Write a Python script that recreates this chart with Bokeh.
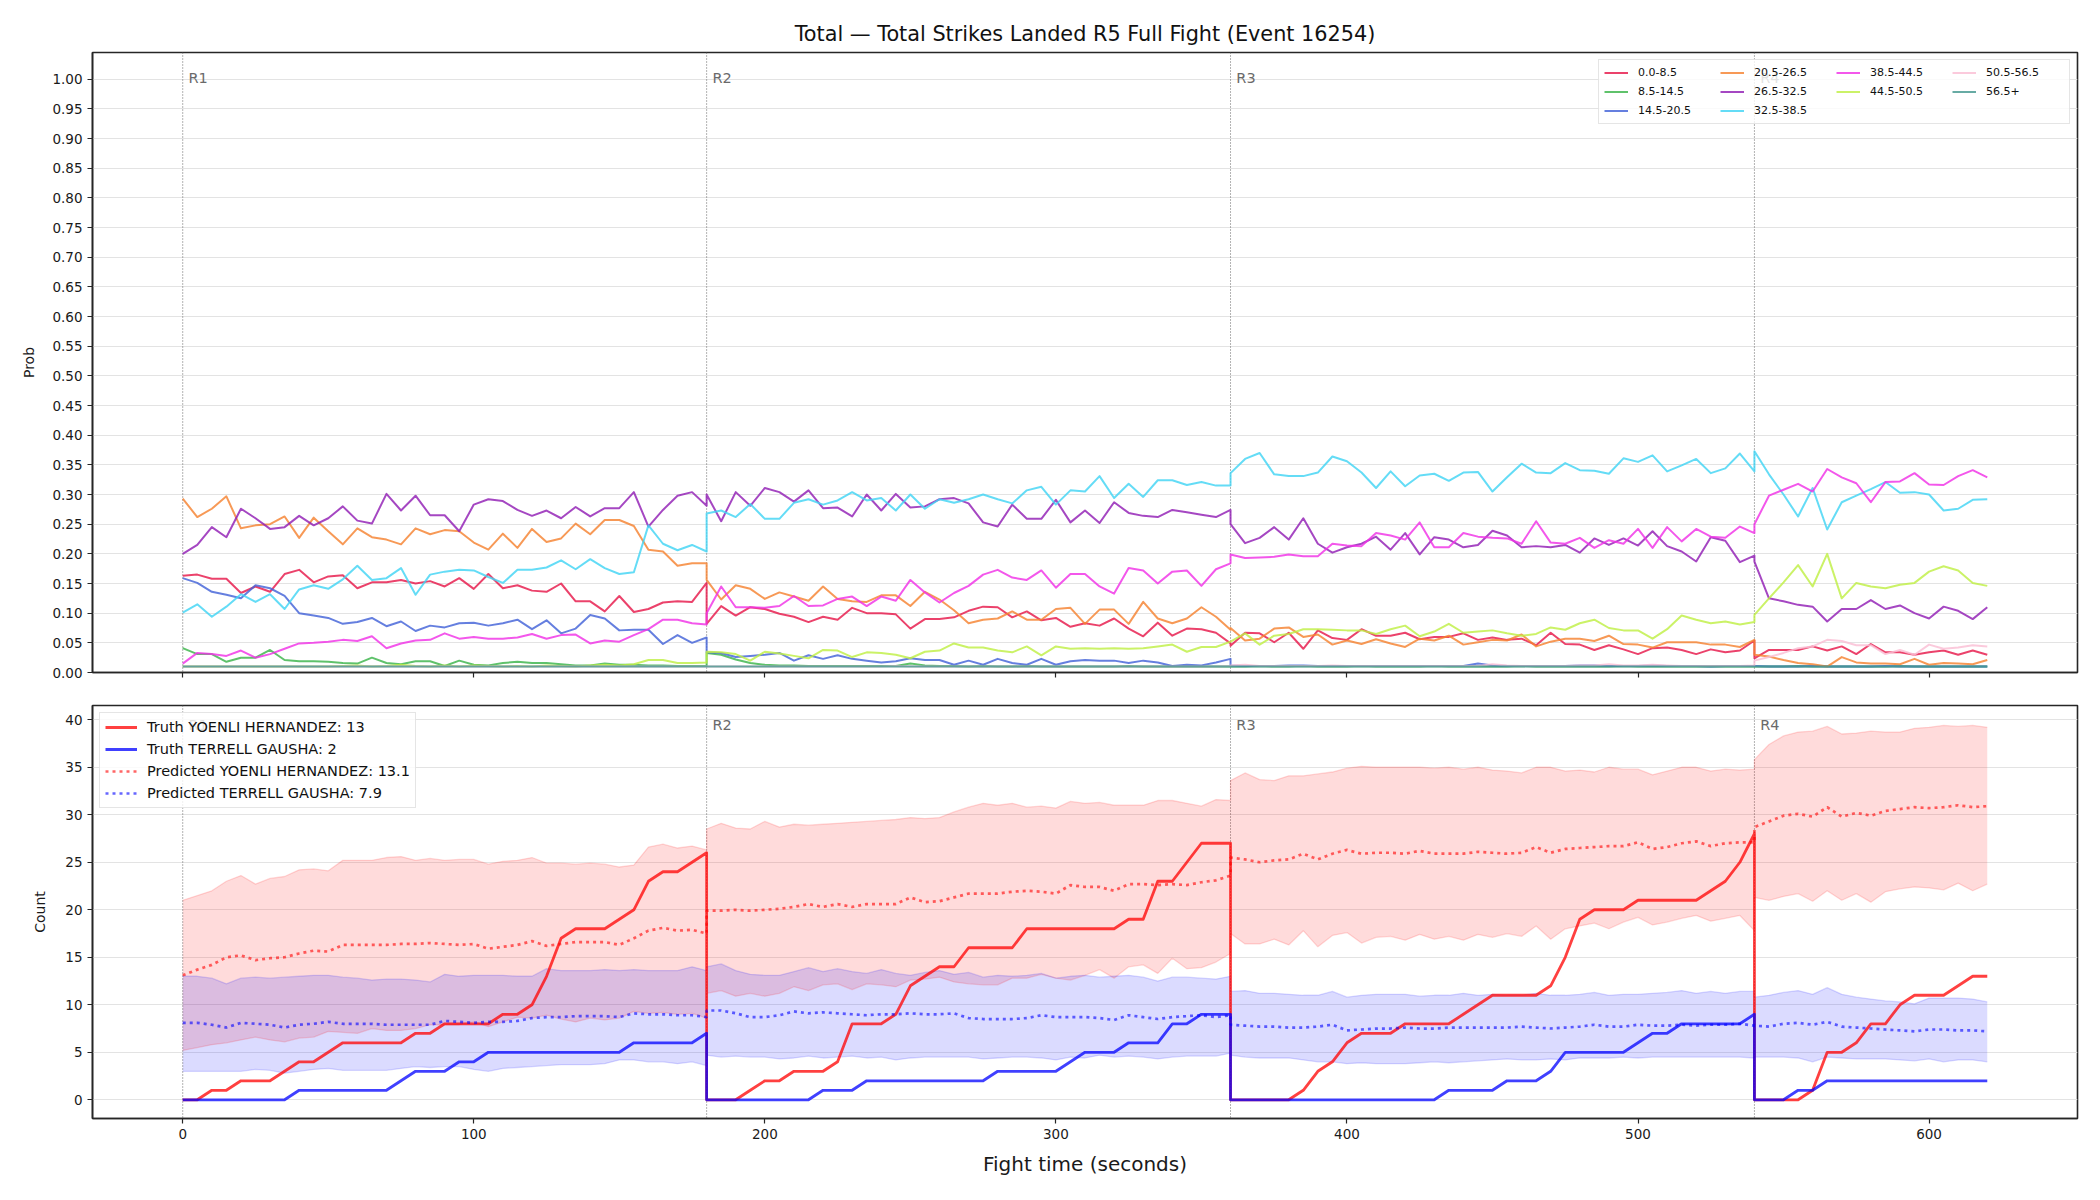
from bokeh.plotting import figure
from bokeh.layouts import column
from bokeh.models import (Range1d, FixedTicker, NumeralTickFormatter, Span, Label,
                          Legend, LegendItem, CustomLabelingPolicy)
from bokeh.embed import file_html
from bokeh.resources import INLINE

FONT = "DejaVu Sans"

# ---------------------------------------------------------------------------
# Time grid: every round sampled each 5 s; rounds are joined end-to-start.
# ---------------------------------------------------------------------------
round_starts = [0, 180, 360, 540]
round_names = ["R1", "R2", "R3", "R4"]
t_r1 = list(range(0, 181, 5))
t_r2 = list(range(180, 361, 5))
t_r3 = list(range(360, 541, 5))
t_r4 = list(range(540, 621, 5))
t_all = t_r1 + t_r2 + t_r3 + t_r4

# ---------------------------------------------------------------------------
# Probability of each total-strikes bin
# ---------------------------------------------------------------------------
bin_labels = ["0.0-8.5", "8.5-14.5", "14.5-20.5", "20.5-26.5", "26.5-32.5",
              "32.5-38.5", "38.5-44.5", "44.5-50.5", "50.5-56.5", "56.5+"]
bin_colors = ["#e6194b", "#3cb44b", "#4363d8", "#f58231", "#911eb4",
              "#42d4f4", "#f032e6", "#bfef45", "#fabed4", "#469990"]

prob_0_85 = (
    [0.163, 0.165, 0.158, 0.158, 0.134, 0.145, 0.136, 0.166, 0.173, 0.152, 0.162, 0.164, 0.142,
     0.152, 0.152, 0.156, 0.150, 0.154, 0.145, 0.159, 0.141, 0.166, 0.142, 0.147, 0.138, 0.136,
     0.150, 0.120, 0.120, 0.103, 0.129, 0.102, 0.107, 0.118, 0.120, 0.119, 0.151]
    + [0.082, 0.112, 0.096, 0.110, 0.107, 0.099, 0.094, 0.085, 0.094, 0.089, 0.109, 0.100, 0.100,
       0.098, 0.074, 0.090, 0.090, 0.093, 0.104, 0.111, 0.110, 0.093, 0.103, 0.088, 0.092, 0.077,
       0.083, 0.079, 0.091, 0.074, 0.061, 0.084, 0.062, 0.074, 0.073, 0.067, 0.049]
    + [0.045, 0.067, 0.066, 0.051, 0.067, 0.040, 0.071, 0.058, 0.055, 0.073, 0.062, 0.062, 0.067,
       0.056, 0.060, 0.060, 0.066, 0.055, 0.059, 0.055, 0.057, 0.046, 0.067, 0.048, 0.047, 0.038,
       0.046, 0.039, 0.031, 0.041, 0.042, 0.038, 0.031, 0.039, 0.034, 0.037, 0.054]
    + [0.024, 0.038, 0.038, 0.038, 0.044, 0.037, 0.044, 0.031, 0.048, 0.034, 0.034, 0.030, 0.034,
       0.037, 0.030, 0.037, 0.030]
)
prob_85_145 = (
    [0.041, 0.031, 0.031, 0.018, 0.025, 0.025, 0.038, 0.021, 0.019, 0.019, 0.018, 0.016, 0.015,
     0.025, 0.016, 0.014, 0.019, 0.019, 0.011, 0.020, 0.013, 0.012, 0.016, 0.018, 0.016, 0.016,
     0.014, 0.012, 0.012, 0.015, 0.013, 0.013, 0.012, 0.012, 0.011, 0.011, 0.011]
    + [0.033, 0.030, 0.022, 0.016, 0.013, 0.012, 0.012, 0.011, 0.011, 0.011, 0.011, 0.011, 0.011,
       0.011, 0.015, 0.012, 0.011, 0.011, 0.010, 0.011, 0.010, 0.010, 0.011, 0.010, 0.010, 0.010,
       0.010, 0.010, 0.010, 0.011, 0.010, 0.010, 0.010, 0.010, 0.010, 0.010, 0.010]
    + [0.010, 0.010, 0.011, 0.010, 0.010, 0.011, 0.010, 0.010, 0.010, 0.011, 0.010, 0.010, 0.010,
       0.010, 0.011, 0.010, 0.010, 0.010, 0.010, 0.010, 0.011, 0.010, 0.010, 0.010, 0.010, 0.010,
       0.010, 0.011, 0.010, 0.010, 0.010, 0.010, 0.010, 0.010, 0.010, 0.010, 0.010]
    + [0.010, 0.010, 0.010, 0.011, 0.010, 0.010, 0.010, 0.010, 0.010, 0.010, 0.011, 0.010, 0.010,
       0.010, 0.010, 0.010, 0.010]
)
prob_145_205 = (
    [0.159, 0.151, 0.136, 0.131, 0.125, 0.147, 0.142, 0.129, 0.100, 0.096, 0.092, 0.082, 0.085,
     0.092, 0.078, 0.086, 0.070, 0.079, 0.076, 0.083, 0.084, 0.079, 0.083, 0.089, 0.073, 0.088,
     0.066, 0.074, 0.097, 0.091, 0.071, 0.072, 0.072, 0.048, 0.063, 0.050, 0.059]
    + [0.034, 0.033, 0.026, 0.028, 0.030, 0.033, 0.020, 0.029, 0.023, 0.029, 0.023, 0.020, 0.017,
       0.019, 0.024, 0.021, 0.021, 0.013, 0.020, 0.013, 0.023, 0.016, 0.013, 0.023, 0.013, 0.019,
       0.021, 0.020, 0.020, 0.016, 0.020, 0.017, 0.011, 0.013, 0.012, 0.017, 0.023]
    + [0.012, 0.011, 0.011, 0.011, 0.012, 0.012, 0.011, 0.011, 0.011, 0.011, 0.011, 0.011, 0.011,
       0.011, 0.011, 0.011, 0.011, 0.015, 0.012, 0.011, 0.011, 0.011, 0.011, 0.011, 0.012, 0.012,
       0.011, 0.011, 0.011, 0.012, 0.011, 0.011, 0.011, 0.010, 0.011, 0.011, 0.011]
    + [0.011, 0.010, 0.010, 0.010, 0.011, 0.010, 0.010, 0.010, 0.010, 0.011, 0.010, 0.010, 0.010,
       0.010, 0.010, 0.010, 0.010]
)
prob_205_265 = (
    [0.293, 0.262, 0.276, 0.297, 0.243, 0.248, 0.250, 0.263, 0.227, 0.261, 0.238, 0.216, 0.243,
     0.228, 0.224, 0.216, 0.243, 0.233, 0.240, 0.238, 0.219, 0.207, 0.234, 0.210, 0.242, 0.220,
     0.226, 0.251, 0.233, 0.257, 0.257, 0.247, 0.207, 0.204, 0.180, 0.184, 0.184]
    + [0.156, 0.123, 0.147, 0.141, 0.124, 0.135, 0.128, 0.121, 0.145, 0.124, 0.120, 0.119, 0.130,
       0.130, 0.112, 0.136, 0.123, 0.105, 0.083, 0.089, 0.091, 0.103, 0.089, 0.089, 0.107, 0.109,
       0.082, 0.106, 0.106, 0.082, 0.119, 0.091, 0.083, 0.091, 0.110, 0.094, 0.072]
    + [0.075, 0.054, 0.057, 0.074, 0.076, 0.060, 0.064, 0.047, 0.054, 0.048, 0.056, 0.049, 0.043,
       0.057, 0.054, 0.062, 0.047, 0.051, 0.055, 0.054, 0.064, 0.044, 0.052, 0.057, 0.057, 0.053,
       0.062, 0.048, 0.047, 0.042, 0.051, 0.051, 0.051, 0.047, 0.047, 0.043, 0.055]
    + [0.030, 0.027, 0.021, 0.016, 0.014, 0.010, 0.026, 0.017, 0.015, 0.015, 0.014, 0.023, 0.013,
       0.016, 0.015, 0.014, 0.021]
)
prob_265_325 = (
    [0.200, 0.215, 0.245, 0.228, 0.276, 0.260, 0.242, 0.245, 0.264, 0.248, 0.260, 0.280, 0.256,
     0.251, 0.301, 0.273, 0.298, 0.265, 0.265, 0.238, 0.283, 0.292, 0.289, 0.274, 0.264, 0.273,
     0.260, 0.279, 0.263, 0.277, 0.277, 0.304, 0.246, 0.274, 0.298, 0.304, 0.281]
    + [0.300, 0.255, 0.304, 0.281, 0.311, 0.304, 0.288, 0.307, 0.277, 0.278, 0.263, 0.300, 0.273,
       0.301, 0.278, 0.280, 0.292, 0.294, 0.285, 0.253, 0.246, 0.283, 0.259, 0.259, 0.291, 0.253,
       0.273, 0.252, 0.287, 0.269, 0.264, 0.262, 0.274, 0.270, 0.266, 0.262, 0.274]
    + [0.250, 0.218, 0.227, 0.245, 0.224, 0.260, 0.217, 0.202, 0.211, 0.217, 0.229, 0.207, 0.235,
       0.199, 0.228, 0.224, 0.211, 0.215, 0.239, 0.231, 0.211, 0.213, 0.211, 0.215, 0.202, 0.226,
       0.215, 0.226, 0.214, 0.238, 0.213, 0.204, 0.187, 0.228, 0.222, 0.186, 0.197]
    + [0.187, 0.125, 0.120, 0.114, 0.111, 0.086, 0.107, 0.107, 0.122, 0.107, 0.113, 0.100, 0.091,
       0.111, 0.104, 0.090, 0.110]
)
prob_325_385 = (
    [0.101, 0.115, 0.094, 0.111, 0.132, 0.119, 0.132, 0.107, 0.140, 0.147, 0.141, 0.157, 0.180,
     0.156, 0.159, 0.176, 0.131, 0.165, 0.170, 0.173, 0.172, 0.161, 0.151, 0.173, 0.173, 0.177,
     0.189, 0.174, 0.191, 0.176, 0.166, 0.169, 0.248, 0.217, 0.206, 0.215, 0.204]
    + [0.268, 0.273, 0.262, 0.284, 0.259, 0.259, 0.286, 0.292, 0.283, 0.290, 0.304, 0.290, 0.294,
       0.273, 0.300, 0.276, 0.292, 0.286, 0.292, 0.300, 0.292, 0.285, 0.307, 0.313, 0.283, 0.307,
       0.305, 0.331, 0.294, 0.318, 0.296, 0.324, 0.324, 0.316, 0.321, 0.315, 0.315]
    + [0.336, 0.360, 0.370, 0.334, 0.331, 0.331, 0.337, 0.364, 0.356, 0.337, 0.311, 0.339, 0.314,
       0.332, 0.335, 0.323, 0.337, 0.338, 0.305, 0.329, 0.352, 0.337, 0.336, 0.353, 0.341, 0.340,
       0.335, 0.361, 0.355, 0.366, 0.339, 0.349, 0.360, 0.336, 0.344, 0.369, 0.339]
    + [0.373, 0.334, 0.300, 0.263, 0.311, 0.241, 0.287, 0.298, 0.309, 0.321, 0.303, 0.304, 0.300,
       0.273, 0.276, 0.291, 0.292]
)
prob_385_445 = (
    [0.015, 0.033, 0.031, 0.028, 0.037, 0.025, 0.031, 0.040, 0.049, 0.050, 0.052, 0.055, 0.053,
     0.061, 0.041, 0.049, 0.054, 0.055, 0.066, 0.057, 0.060, 0.057, 0.057, 0.059, 0.065, 0.057,
     0.063, 0.064, 0.049, 0.054, 0.052, 0.063, 0.073, 0.089, 0.089, 0.083, 0.081]
    + [0.100, 0.145, 0.110, 0.110, 0.109, 0.112, 0.129, 0.112, 0.113, 0.124, 0.128, 0.112, 0.128,
       0.121, 0.156, 0.135, 0.118, 0.134, 0.146, 0.165, 0.173, 0.160, 0.156, 0.172, 0.143, 0.166,
       0.166, 0.145, 0.133, 0.176, 0.172, 0.150, 0.170, 0.172, 0.146, 0.174, 0.184]
    + [0.199, 0.193, 0.194, 0.195, 0.199, 0.196, 0.196, 0.217, 0.214, 0.213, 0.235, 0.231, 0.224,
       0.253, 0.211, 0.211, 0.235, 0.229, 0.227, 0.226, 0.217, 0.255, 0.219, 0.217, 0.227, 0.210,
       0.223, 0.217, 0.242, 0.210, 0.245, 0.221, 0.242, 0.229, 0.227, 0.246, 0.235]
    + [0.250, 0.298, 0.308, 0.318, 0.305, 0.343, 0.329, 0.319, 0.287, 0.321, 0.322, 0.336, 0.317,
       0.316, 0.331, 0.341, 0.329]
)
prob_445_505 = (
    [0.010, 0.010, 0.010, 0.010, 0.010, 0.010, 0.010, 0.010, 0.010, 0.010, 0.010, 0.011, 0.012,
     0.010, 0.011, 0.013, 0.011, 0.010, 0.012, 0.010, 0.012, 0.011, 0.010, 0.011, 0.010, 0.012,
     0.011, 0.010, 0.012, 0.013, 0.012, 0.014, 0.021, 0.021, 0.016, 0.016, 0.017]
    + [0.035, 0.034, 0.031, 0.020, 0.035, 0.032, 0.028, 0.024, 0.038, 0.037, 0.026, 0.034, 0.033,
       0.030, 0.024, 0.035, 0.037, 0.049, 0.042, 0.042, 0.037, 0.034, 0.044, 0.029, 0.044, 0.040,
       0.041, 0.040, 0.041, 0.040, 0.041, 0.044, 0.047, 0.035, 0.043, 0.043, 0.052]
    + [0.052, 0.066, 0.047, 0.062, 0.065, 0.073, 0.073, 0.072, 0.071, 0.071, 0.065, 0.073, 0.079,
       0.061, 0.069, 0.082, 0.067, 0.069, 0.071, 0.066, 0.062, 0.065, 0.076, 0.072, 0.083, 0.089,
       0.075, 0.071, 0.071, 0.057, 0.073, 0.096, 0.089, 0.083, 0.086, 0.081, 0.085]
    + [0.097, 0.125, 0.152, 0.181, 0.145, 0.200, 0.125, 0.151, 0.145, 0.142, 0.148, 0.151, 0.170,
       0.179, 0.172, 0.151, 0.146]
)
prob_505_565 = (
    [0.010, 0.010, 0.010, 0.010, 0.010, 0.010, 0.010, 0.010, 0.010, 0.010, 0.010, 0.010, 0.010,
     0.010, 0.010, 0.010, 0.010, 0.010, 0.010, 0.010, 0.010, 0.010, 0.010, 0.010, 0.010, 0.010,
     0.010, 0.010, 0.010, 0.010, 0.010, 0.010, 0.010, 0.010, 0.010, 0.010, 0.010]
    + [0.010, 0.010, 0.010, 0.010, 0.010, 0.010, 0.010, 0.010, 0.010, 0.010, 0.010, 0.010, 0.010,
       0.011, 0.010, 0.010, 0.010, 0.010, 0.010, 0.010, 0.010, 0.010, 0.010, 0.010, 0.010, 0.010,
       0.010, 0.010, 0.010, 0.010, 0.010, 0.010, 0.010, 0.010, 0.010, 0.010, 0.011]
    + [0.012, 0.013, 0.011, 0.011, 0.011, 0.011, 0.011, 0.012, 0.011, 0.011, 0.011, 0.011, 0.011,
       0.011, 0.011, 0.011, 0.011, 0.011, 0.014, 0.012, 0.011, 0.011, 0.011, 0.011, 0.012, 0.012,
       0.014, 0.012, 0.012, 0.013, 0.012, 0.011, 0.011, 0.011, 0.011, 0.011, 0.012]
    + [0.020, 0.026, 0.033, 0.041, 0.044, 0.055, 0.053, 0.046, 0.046, 0.031, 0.038, 0.030, 0.047,
       0.040, 0.042, 0.046, 0.044]
)
prob_565_up = (
    [0.010, 0.010, 0.010, 0.010, 0.010, 0.010, 0.010, 0.010, 0.010, 0.010, 0.010, 0.010, 0.010,
     0.010, 0.010, 0.010, 0.010, 0.010, 0.010, 0.010, 0.010, 0.010, 0.010, 0.010, 0.010, 0.010,
     0.010, 0.010, 0.010, 0.010, 0.010, 0.010, 0.010, 0.010, 0.010, 0.010, 0.010]
    + [0.010, 0.010, 0.010, 0.010, 0.010, 0.010, 0.010, 0.010, 0.010, 0.010, 0.010, 0.010, 0.010,
       0.010, 0.010, 0.010, 0.010, 0.010, 0.010, 0.010, 0.010, 0.010, 0.010, 0.010, 0.010, 0.010,
       0.010, 0.010, 0.010, 0.010, 0.010, 0.010, 0.010, 0.010, 0.010, 0.010, 0.010]
    + [0.010, 0.010, 0.010, 0.010, 0.010, 0.010, 0.010, 0.010, 0.010, 0.010, 0.010, 0.010, 0.010,
       0.010, 0.010, 0.010, 0.010, 0.010, 0.010, 0.010, 0.010, 0.010, 0.010, 0.010, 0.010, 0.010,
       0.010, 0.010, 0.010, 0.010, 0.010, 0.010, 0.010, 0.010, 0.010, 0.010, 0.010]
    + [0.010, 0.010, 0.010, 0.010, 0.010, 0.010, 0.010, 0.010, 0.010, 0.010, 0.010, 0.010, 0.010,
       0.010, 0.010, 0.010, 0.010]
)
bin_probs = [prob_0_85, prob_85_145, prob_145_205, prob_205_265, prob_265_325,
             prob_325_385, prob_385_445, prob_445_505, prob_505_565, prob_565_up]

# ---------------------------------------------------------------------------
# Cumulative strikes per round: truth and model prediction with interval
# ---------------------------------------------------------------------------
fighter_a = "YOENLI HERNANDEZ"
fighter_b = "TERRELL GAUSHA"
pred_total_a = 13.1
pred_total_b = 7.9

truth_a = (
    [0, 0, 1, 1, 2, 2, 2, 3, 4, 4, 5, 6, 6, 6, 6, 6, 7, 7, 8, 8, 8, 8, 9, 9, 10, 13, 17, 18, 18,
     18, 19, 20, 23, 24, 24, 25, 26]
    + [0, 0, 0, 1, 2, 2, 3, 3, 3, 4, 8, 8, 8, 9, 12, 13, 14, 14, 16, 16, 16, 16, 18, 18, 18, 18,
       18, 18, 18, 19, 19, 23, 23, 25, 27, 27, 27]
    + [0, 0, 0, 0, 0, 1, 3, 4, 6, 7, 7, 7, 8, 8, 8, 8, 9, 10, 11, 11, 11, 11, 12, 15, 19, 20, 20,
       20, 21, 21, 21, 21, 21, 22, 23, 25, 28]
    + [0, 0, 0, 0, 1, 5, 5, 6, 8, 8, 10, 11, 11, 11, 12, 13, 13]
)
truth_b = (
    [0, 0, 0, 0, 0, 0, 0, 0, 1, 1, 1, 1, 1, 1, 1, 2, 3, 3, 3, 4, 4, 5, 5, 5, 5, 5, 5, 5, 5, 5, 5,
     6, 6, 6, 6, 6, 7]
    + [0, 0, 0, 0, 0, 0, 0, 0, 1, 1, 1, 2, 2, 2, 2, 2, 2, 2, 2, 2, 3, 3, 3, 3, 3, 4, 5, 5, 5, 6,
       6, 6, 8, 8, 9, 9, 9]
    + [0, 0, 0, 0, 0, 0, 0, 0, 0, 0, 0, 0, 0, 0, 0, 1, 1, 1, 1, 2, 2, 2, 3, 5, 5, 5, 5, 5, 6, 7,
       7, 8, 8, 8, 8, 8, 9]
    + [0, 0, 0, 1, 1, 2, 2, 2, 2, 2, 2, 2, 2, 2, 2, 2, 2]
)
pred_a = (
    [13.1, 13.7, 14.2, 15.0, 15.2, 14.7, 14.9, 15.0, 15.4, 15.7, 15.6, 16.3, 16.3, 16.3, 16.3,
     16.4, 16.4, 16.5, 16.4, 16.3, 16.4, 15.9, 16.1, 16.3, 16.7, 16.2, 16.4, 16.6, 16.6, 16.6,
     16.3, 17.0, 17.8, 18.1, 17.8, 17.9, 17.5]
    + [19.9, 19.9, 20.0, 19.9, 20.0, 20.1, 20.3, 20.6, 20.3, 20.6, 20.3, 20.6, 20.6, 20.6, 21.3,
       20.8, 20.9, 21.3, 21.7, 21.7, 21.7, 21.9, 22.0, 21.9, 21.7, 22.6, 22.4, 22.4, 22.0, 22.7,
       22.7, 22.6, 22.7, 22.6, 22.9, 23.1, 23.6]
    + [25.5, 25.3, 25.0, 25.2, 25.3, 25.9, 25.3, 25.9, 26.3, 25.9, 26.0, 26.0, 25.9, 26.2, 25.9,
       25.9, 25.9, 26.1, 26.0, 25.9, 26.0, 26.6, 26.0, 26.4, 26.5, 26.6, 26.7, 26.7, 27.1, 26.4,
       26.6, 27.0, 27.2, 26.7, 27.0, 27.1, 27.1]
    + [28.7, 29.3, 29.9, 30.1, 29.8, 30.8, 29.8, 30.2, 29.9, 30.4, 30.6, 30.8, 30.7, 30.8, 31.0,
       30.8, 30.9]
)
pred_a_hi = (
    [21.0, 21.5, 22.0, 23.0, 23.6, 22.7, 23.3, 23.5, 24.2, 24.3, 24.1, 25.2, 25.2, 25.2, 25.5,
     25.6, 25.2, 25.4, 25.2, 25.3, 25.3, 24.8, 25.1, 25.2, 25.5, 24.9, 24.9, 24.8, 24.9, 24.8,
     24.5, 24.7, 26.6, 26.9, 26.5, 26.7, 26.3]
    + [28.5, 29.1, 28.6, 28.5, 29.3, 28.7, 29.0, 28.9, 29.0, 29.1, 29.2, 29.3, 29.4, 29.5, 29.7,
       29.6, 29.7, 30.3, 30.8, 31.2, 31.0, 31.2, 30.8, 30.9, 30.7, 31.4, 31.2, 31.3, 31.0, 31.0,
       31.0, 31.5, 31.5, 31.2, 30.9, 31.6, 31.5]
    + [33.6, 34.4, 33.7, 33.6, 34.1, 34.1, 34.3, 34.5, 34.9, 35.1, 35.0, 35.0, 35.0, 35.0, 34.9,
       35.0, 34.8, 35.0, 34.7, 34.6, 34.4, 35.0, 35.0, 34.6, 34.7, 34.5, 35.0, 34.8, 34.8, 34.2,
       34.6, 35.0, 35.0, 34.6, 34.8, 34.7, 34.8]
    + [35.8, 37.4, 38.3, 38.7, 38.8, 39.3, 38.5, 38.6, 38.8, 38.7, 38.7, 39.1, 39.2, 39.4, 39.3,
       39.4, 39.2]
)
pred_a_lo = (
    [5.2, 5.5, 5.8, 6.0, 6.3, 6.6, 6.3, 6.1, 6.5, 6.6, 7.2, 7.1, 7.0, 7.5, 7.3, 7.3, 7.5, 7.9,
     7.9, 7.9, 8.2, 7.7, 8.2, 8.7, 8.6, 8.9, 8.5, 8.2, 8.6, 8.4, 8.6, 9.3, 9.1, 9.2, 9.0, 9.1, 8.6]
    + [11.2, 11.5, 10.9, 11.2, 10.9, 11.2, 11.9, 11.5, 12.1, 12.2, 11.6, 12.2, 12.1, 11.9, 12.6,
       12.7, 12.9, 12.4, 12.2, 12.1, 12.1, 12.8, 12.8, 13.2, 12.8, 12.6, 13.1, 13.7, 12.8, 14.0,
       14.2, 13.3, 14.9, 13.8, 13.9, 14.5, 15.4]
    + [17.5, 16.4, 16.4, 16.9, 16.3, 17.8, 16.1, 17.3, 17.6, 16.5, 17.1, 17.2, 16.8, 17.4, 16.9,
       17.2, 16.8, 17.4, 17.1, 17.5, 17.2, 18.3, 16.9, 18.0, 18.3, 18.6, 18.0, 18.7, 19.2, 18.4,
       18.7, 19.1, 19.4, 18.8, 19.1, 19.4, 17.8]
    + [21.3, 21.0, 21.4, 21.7, 20.9, 22.0, 21.0, 21.7, 20.8, 21.9, 22.2, 22.4, 22.3, 22.1, 22.8,
       22.0, 22.7]
)
pred_b = (
    [8.1, 8.1, 7.9, 7.6, 8.1, 8.0, 7.9, 7.6, 7.9, 8.0, 8.2, 8.0, 8.0, 8.0, 7.9, 7.9, 7.9, 7.9,
     8.3, 8.2, 8.1, 8.2, 8.2, 8.3, 8.6, 8.7, 8.7, 8.8, 8.8, 8.8, 8.7, 9.1, 9.0, 9.0, 8.9, 8.9, 8.7]
    + [9.4, 9.4, 9.1, 8.7, 8.7, 8.9, 9.3, 9.1, 9.2, 9.1, 9.0, 8.9, 9.0, 9.0, 9.1, 9.0, 9.0, 9.1,
       8.6, 8.5, 8.5, 8.5, 8.6, 8.9, 8.7, 8.7, 8.7, 8.6, 8.4, 8.9, 8.7, 8.5, 8.7, 8.8, 8.9, 8.7, 8.9]
    + [7.9, 7.8, 7.7, 7.7, 7.6, 7.6, 7.7, 7.9, 7.3, 7.4, 7.5, 7.5, 7.6, 7.5, 7.5, 7.6, 7.6, 7.6,
       7.6, 7.6, 7.7, 7.6, 7.5, 7.6, 7.7, 7.9, 7.7, 7.7, 7.9, 7.8, 7.8, 7.9, 7.8, 7.9, 7.9, 8.0, 7.8]
    + [7.8, 7.7, 8.0, 8.1, 7.9, 8.2, 7.7, 7.6, 7.5, 7.4, 7.3, 7.2, 7.4, 7.4, 7.3, 7.3, 7.2]
)
pred_b_hi = (
    [13.0, 13.0, 12.8, 12.2, 12.8, 12.9, 12.8, 12.9, 13.0, 13.1, 13.1, 12.9, 12.8, 12.6, 12.7,
     12.7, 12.6, 12.4, 13.2, 13.0, 13.1, 13.1, 13.1, 13.0, 13.0, 13.8, 13.6, 13.6, 13.6, 13.7,
     13.6, 13.7, 13.6, 13.6, 13.6, 14.0, 13.6]
    + [14.0, 14.3, 13.6, 13.2, 13.1, 13.1, 13.5, 13.9, 13.5, 13.8, 13.5, 13.3, 13.7, 13.3, 13.1,
       13.4, 13.6, 13.2, 13.4, 12.9, 13.1, 13.0, 13.1, 13.3, 12.8, 13.0, 13.1, 12.9, 13.0, 13.1,
       12.9, 12.5, 12.9, 12.9, 12.8, 12.7, 13.0]
    + [11.4, 11.5, 11.2, 11.2, 11.1, 11.0, 11.0, 11.4, 10.8, 11.0, 11.1, 11.1, 11.1, 10.9, 11.0,
       11.0, 11.2, 11.0, 11.1, 11.0, 11.0, 11.2, 11.0, 11.0, 11.1, 11.3, 11.0, 11.1, 11.1, 11.2,
       11.3, 11.5, 11.2, 11.4, 11.2, 11.4, 11.4]
    + [10.8, 11.0, 11.3, 11.5, 11.1, 11.8, 11.1, 10.8, 10.6, 10.4, 10.3, 10.1, 10.7, 10.7, 10.7,
       10.6, 10.3]
)
pred_b_lo = (
    [3.0, 3.0, 3.0, 3.0, 3.0, 3.2, 3.1, 2.8, 3.0, 3.2, 3.3, 3.1, 3.1, 3.1, 3.1, 3.3, 3.5, 3.4,
     3.5, 3.5, 3.2, 3.0, 3.3, 3.4, 3.5, 3.6, 3.7, 3.7, 3.7, 3.8, 4.2, 4.2, 4.0, 4.0, 3.8, 4.0, 3.6]
    + [4.7, 4.5, 4.6, 4.5, 4.5, 4.3, 4.4, 4.6, 4.4, 4.5, 4.6, 4.4, 4.5, 4.2, 4.4, 4.5, 4.5, 4.5,
       4.5, 4.3, 4.4, 4.5, 4.5, 4.4, 4.2, 4.5, 4.4, 4.7, 4.5, 4.6, 4.5, 4.3, 4.5, 4.6, 4.6, 4.6, 4.9]
    + [4.7, 4.5, 4.4, 4.4, 4.4, 4.2, 4.0, 4.0, 3.8, 3.9, 3.8, 3.8, 3.8, 3.9, 4.0, 3.9, 4.0, 4.1,
       4.2, 4.3, 4.2, 4.2, 4.3, 4.2, 4.4, 4.4, 4.4, 4.5, 4.4, 4.5, 4.5, 4.5, 4.5, 4.5, 4.5, 4.5, 4.4]
    + [4.5, 4.5, 4.5, 4.4, 4.0, 4.5, 4.4, 4.3, 4.3, 4.3, 4.2, 4.1, 4.3, 4.0, 4.2, 4.2, 4.0]
)

x_ticks = [0, 100, 200, 300, 400, 500, 600]
prob_ticks = [round(i * 0.05, 2) for i in range(21)]
count_ticks = [0, 5, 10, 15, 20, 25, 30, 35, 40]


def style_axes(p):
    p.background_fill_color = "white"
    p.border_fill_color = "white"
    p.outline_line_color = "#262626"
    p.outline_line_width = 1.6
    p.xgrid.visible = False
    p.ygrid.grid_line_color = "#e3e3e3"
    p.ygrid.grid_line_width = 1
    for ax in (p.xaxis[0], p.yaxis[0]):
        ax.axis_line_color = "#262626"
        ax.axis_line_width = 1.6
        ax.major_tick_line_color = "#262626"
        ax.major_tick_line_width = 1.2
        ax.major_tick_out = 5
        ax.major_tick_in = 0
        ax.minor_tick_line_color = None
        ax.major_label_text_font = FONT
        ax.major_label_text_font_size = "13.5px"
        ax.major_label_text_color = "#1a1a1a"
        ax.axis_label_text_font = FONT
        ax.axis_label_text_font_style = "normal"
        ax.axis_label_text_color = "#1a1a1a"
    p.xaxis.ticker = FixedTicker(ticks=x_ticks)


def add_rounds(p, y_label):
    for t0, name in zip(round_starts, round_names):
        p.add_layout(Span(location=t0, dimension="height", line_color="#666666",
                          line_width=1, line_dash="1 2", level="underlay"))
        p.add_layout(Label(x=t0 + 2, y=y_label, text=name, text_font=FONT,
                           text_font_size="14.5px", text_color="#6a6a6a",
                           text_baseline="middle", text_align="left"))


x_range = Range1d(-31, 651)

# ---------------------------- top: bin probabilities ----------------------
p1 = figure(width=2100, height=690, x_range=x_range, y_range=Range1d(0, 1.045),
            output_backend="svg", toolbar_location=None,
            min_border_left=92, min_border_right=23, min_border_top=52, min_border_bottom=18)
style_axes(p1)
p1.title.text = "Total \u2014 Total Strikes Landed R5 Full Fight (Event 16254)"
p1.title.align = "center"
p1.title.text_font = FONT
p1.title.text_font_size = "20.8px"
p1.title.text_font_style = "normal"
p1.title.text_color = "#111111"
p1.title.standoff = 14
p1.yaxis.ticker = FixedTicker(ticks=prob_ticks)
p1.yaxis.formatter = NumeralTickFormatter(format="0.00")
p1.yaxis.axis_label = "Prob"
p1.yaxis.axis_label_text_font_size = "14px"
p1.yaxis.axis_label_standoff = 12
# shared time axis: the upper panel keeps its tick marks but shows no labels
p1.xaxis.major_label_text_font_size = "1px"
p1.xaxis.major_label_standoff = 0
p1.xaxis.major_label_policy = CustomLabelingPolicy(code="""
    const n = indices.size
    for (let i = 0; i < n; i++)
        indices.unset(i)
    return indices
""")
add_rounds(p1, 1.002)

bin_renderers = []
for lab, col, vals in zip(bin_labels, bin_colors, bin_probs):
    r = p1.line(t_all, vals, line_color=col, line_width=2.0, line_alpha=0.82, line_join="round")
    bin_renderers.append(r)

# row-major ordering so the grid reads down each column
legend_order = [0, 3, 6, 8, 1, 4, 7, 9, 2, 5]
top_legend = Legend(
    items=[LegendItem(label=bin_labels[i], renderers=[bin_renderers[i]]) for i in legend_order],
    location="top_right", orientation="horizontal", ncols=4,
    label_text_font=FONT, label_text_font_size="11px", label_text_color="#111111",
    glyph_width=24, glyph_height=15, label_height=15, label_width=78, label_standoff=10,
    spacing=4, padding=5, margin=7,
    border_line_color="#cccccc", border_line_width=1.5,
    background_fill_color="white", background_fill_alpha=0.8)
p1.add_layout(top_legend)

# ---------------------------- bottom: counts ------------------------------
p2 = figure(width=2100, height=510, x_range=x_range, y_range=Range1d(-1.97, 41.5),
            output_backend="svg", toolbar_location=None,
            min_border_left=92, min_border_right=23, min_border_top=15, min_border_bottom=82)
style_axes(p2)
p2.yaxis.ticker = FixedTicker(ticks=count_ticks)
p2.yaxis.axis_label = "Count"
p2.yaxis.axis_label_text_font_size = "14px"
p2.yaxis.axis_label_standoff = 14
p2.xaxis.axis_label = "Fight time (seconds)"
p2.xaxis.axis_label_text_font_size = "20px"
p2.xaxis.axis_label_standoff = 10
add_rounds(p2, 39.4)

p2.varea(x=t_all, y1=pred_a_lo, y2=pred_a_hi, fill_color="red", fill_alpha=0.14)
p2.varea(x=t_all, y1=pred_b_lo, y2=pred_b_hi, fill_color="blue", fill_alpha=0.14)
for band, col in ((pred_a_lo, "red"), (pred_a_hi, "red"), (pred_b_lo, "blue"), (pred_b_hi, "blue")):
    p2.line(t_all, band, line_color=col, line_alpha=0.15, line_width=1.3)

r_truth_a = p2.line(t_all, truth_a, line_color="red", line_alpha=0.75, line_width=2.8,
                    line_join="round")
r_truth_b = p2.line(t_all, truth_b, line_color="blue", line_alpha=0.75, line_width=2.8,
                    line_join="round")
r_pred_a = p2.line(t_all, pred_a, line_color="red", line_alpha=0.6, line_width=2.7,
                   line_dash="3 4")
r_pred_b = p2.line(t_all, pred_b, line_color="blue", line_alpha=0.6, line_width=2.7,
                   line_dash="3 4")

bottom_legend = Legend(
    items=[
        LegendItem(label=f"Truth {fighter_a}: {truth_a[-1]}", renderers=[r_truth_a]),
        LegendItem(label=f"Truth {fighter_b}: {truth_b[-1]}", renderers=[r_truth_b]),
        LegendItem(label=f"Predicted {fighter_a}: {pred_total_a}", renderers=[r_pred_a]),
        LegendItem(label=f"Predicted {fighter_b}: {pred_total_b}", renderers=[r_pred_b]),
    ],
    location="top_left",
    label_text_font=FONT, label_text_font_size="14.5px", label_text_color="#111111",
    glyph_width=32, glyph_height=18, label_height=18, label_standoff=10,
    spacing=4, padding=5, margin=7,
    border_line_color="#cccccc", border_line_width=1.5,
    background_fill_color="white", background_fill_alpha=0.8)
p2.add_layout(bottom_legend)

layout = column(p1, p2, spacing=0)
with open("out.html", "w") as f:
    f.write(file_html(layout, INLINE))
